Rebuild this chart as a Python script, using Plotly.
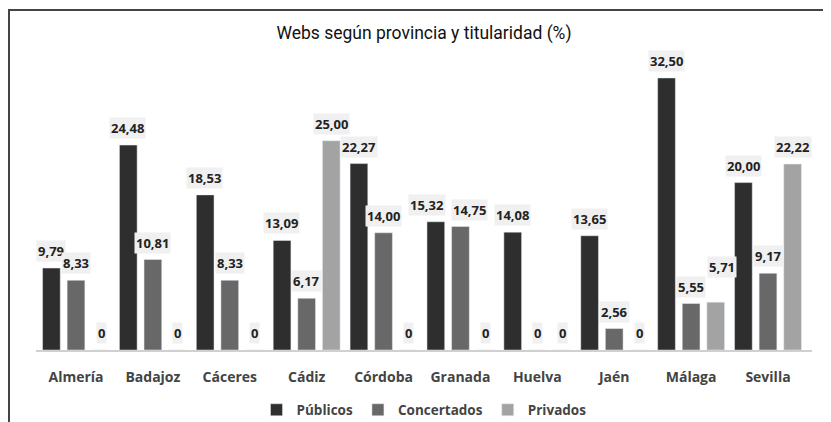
import plotly.graph_objects as go

provincias = ["Almería", "Badajoz", "Cáceres", "Cádiz", "Córdoba",
              "Granada", "Huelva", "Jaén", "Málaga", "Sevilla"]
publicos = [9.79, 24.48, 18.53, 13.09, 22.27, 15.32, 14.08, 13.65, 32.50, 20.00]
concertados = [8.33, 10.81, 8.33, 6.17, 14.00, 14.75, 0, 2.56, 5.55, 9.17]
privados = [0, 0, 0, 25.00, 0, 0, 0, 0, 5.71, 22.22]

series = [("Públicos", publicos, "#2e2e2e"),
          ("Concertados", concertados, "#686868"),
          ("Privados", privados, "#a3a3a3")]


def fmt(v):
    return "0" if v == 0 else f"{v:.2f}".replace(".", ",")


# page has an 8px body margin; figure coords = page coords - 8
W, H = 823, 414
ml, mr, mt, mb = 28, 19, 42, 72
pw = W - ml - mr
ph = H - mt - mb

fig = go.Figure()
for name, vals, col in series:
    fig.add_trace(go.Bar(x=provincias, y=vals, name=name, marker_color=col))

# data labels (label nudges as in the original, in pixels)
slot = 25
nudge = {("Granada", 0): (-8, 0), ("Granada", 1): (9, 0), ("Málaga", 2): (6, 18)}
for i, (name, vals, col) in enumerate(series):
    for cat, v in zip(provincias, vals):
        dx, dy = nudge.get((cat, i), (0, 0))
        fig.add_annotation(
            x=cat, y=v, xref="x", yref="y", text=fmt(v), showarrow=False,
            xshift=(i - 1) * slot + dx, yshift=17 + dy, yanchor="middle",
            font=dict(family="Open Sans", size=13, color="#222222", weight="bold"),
            bgcolor="#f0f0f0", borderpad=1,
        )

fig.update_layout(
    width=W, height=H,
    margin=dict(l=ml, r=mr, t=mt, b=mb, autoexpand=False),
    paper_bgcolor="white", plot_bgcolor="white",
    barmode="group", bargap=0.04, bargroupgap=0.28,
    title=dict(text="Webs según provincia y titularidad (%)",
               x=0.5, xref="paper", y=1 - 25 / H, yref="container",
               yanchor="middle", xanchor="center",
               font=dict(family="Roboto", size=17.5, color="#111111")),
    xaxis=dict(showgrid=False, showline=True, linecolor="#d0d0d0", linewidth=1.5,
               ticks="", ticklabelstandoff=13,
               tickfont=dict(family="Open Sans", size=14, color="#444444", weight="bold")),
    yaxis=dict(range=[0, 35.84], visible=False, showgrid=False, zeroline=False),
    legend=dict(orientation="h", x=0.5, xanchor="center", y=-60 / ph,
                yanchor="middle", traceorder="normal",
                font=dict(family="Open Sans", size=13.5, color="#444444", weight="bold"),
                itemwidth=30),
    showlegend=True,
)

# outer frame (top-left corner at page (9,10))
fig.add_shape(type="rect", xref="paper", yref="paper",
              x0=(1 - ml) / pw, x1=(W + 10 - ml) / pw,
              y0=-(mb + 20) / ph, y1=(H - mb - 2) / ph,
              line=dict(color="#444444", width=2), fillcolor="rgba(0,0,0,0)", layer="above")

fig.write_html("out.html")
